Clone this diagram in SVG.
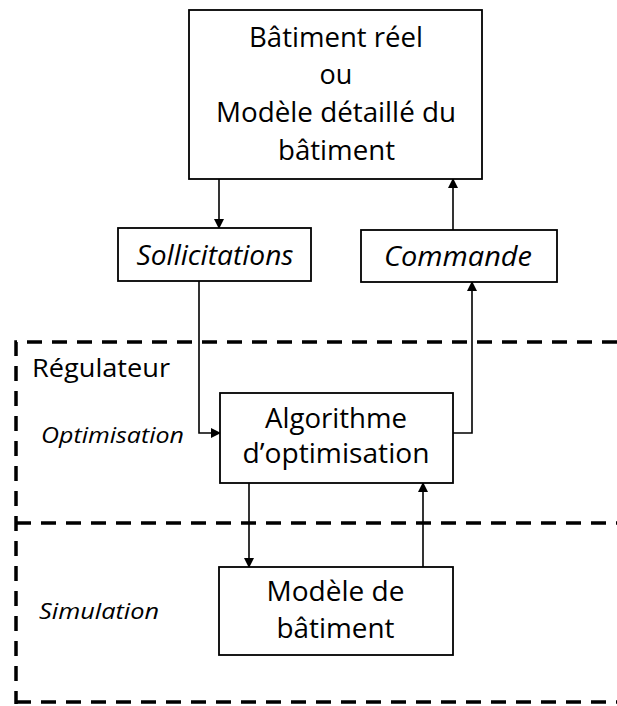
<svg xmlns="http://www.w3.org/2000/svg" width="617" height="706" viewBox="0 0 617 706">
<defs>
<marker id="arr" markerWidth="10" markerHeight="10" refX="9" refY="5" orient="auto" markerUnits="userSpaceOnUse">
<path d="M0,0 L10,5 L0,10 Z" fill="#000"/>
</marker>
<style>
.box{fill:#fff;stroke:#000;stroke-width:1.8}
.t{font-family:"Open Sans","Liberation Sans",sans-serif;font-size:27px;fill:#000;text-anchor:middle}
.i{font-style:italic}
.lbl{font-family:"Open Sans","Liberation Sans",sans-serif;fill:#000}
.c{fill:none;stroke:#000;stroke-width:1.6}
.d{fill:none;stroke:#000;stroke-width:3.5;stroke-dasharray:15 10}
</style>
</defs>
<rect width="617" height="706" fill="#fff"/>
<g id="regions">
<path class="d" d="M617,342 H16 V704"/>
<path class="d" d="M16,523 H617"/>
<path class="d" d="M16,702 H617"/>
<text class="lbl" x="32" y="377" font-size="26" textLength="138" lengthAdjust="spacingAndGlyphs">Régulateur</text>
<text class="lbl i" x="41" y="443" font-size="22" textLength="143" lengthAdjust="spacingAndGlyphs">Optimisation</text>
<text class="lbl i" x="39" y="619" font-size="22" textLength="120" lengthAdjust="spacingAndGlyphs">Simulation</text>
</g>
<g id="connectors">
<path class="c" d="M219,179 V228" marker-end="url(#arr)"/>
<path class="c" d="M453,230 V179" marker-end="url(#arr)"/>
<path class="c" d="M199,281 V433 H220" marker-end="url(#arr)"/>
<path class="c" d="M453,433 H472 V282" marker-end="url(#arr)"/>
<path class="c" d="M249,483 V567" marker-end="url(#arr)"/>
<path class="c" d="M423,567 V483" marker-end="url(#arr)"/>
</g>
<g id="batiment">
<rect class="box" x="189" y="10" width="293" height="169"/>
<text class="t" x="336" y="46.5" textLength="174" lengthAdjust="spacingAndGlyphs">Bâtiment réel</text>
<text class="t" x="336" y="84.3">ou</text>
<text class="t" x="336" y="122.1" textLength="240" lengthAdjust="spacingAndGlyphs">Modèle détaillé du</text>
<text class="t" x="336.5" y="160" textLength="117" lengthAdjust="spacingAndGlyphs">bâtiment</text>
</g>
<g id="sollicitations">
<rect class="box" x="118" y="228" width="193" height="53"/>
<text class="t i" x="215" y="265" textLength="157" lengthAdjust="spacingAndGlyphs">Sollicitations</text>
</g>
<g id="commande">
<rect class="box" x="361" y="230" width="196" height="52"/>
<text class="t i" x="458" y="266" textLength="148" lengthAdjust="spacingAndGlyphs">Commande</text>
</g>
<g id="algorithme">
<rect class="box" x="220" y="393" width="233" height="90"/>
<text class="t" x="336" y="428" textLength="142" lengthAdjust="spacingAndGlyphs">Algorithme</text>
<text class="t" x="336" y="463" textLength="187" lengthAdjust="spacingAndGlyphs">d’optimisation</text>
</g>
<g id="modele">
<rect class="box" x="219" y="567" width="234" height="88"/>
<text class="t" x="335.5" y="601" textLength="138" lengthAdjust="spacingAndGlyphs">Modèle de</text>
<text class="t" x="335.5" y="638" textLength="118" lengthAdjust="spacingAndGlyphs">bâtiment</text>
</g>
</svg>
